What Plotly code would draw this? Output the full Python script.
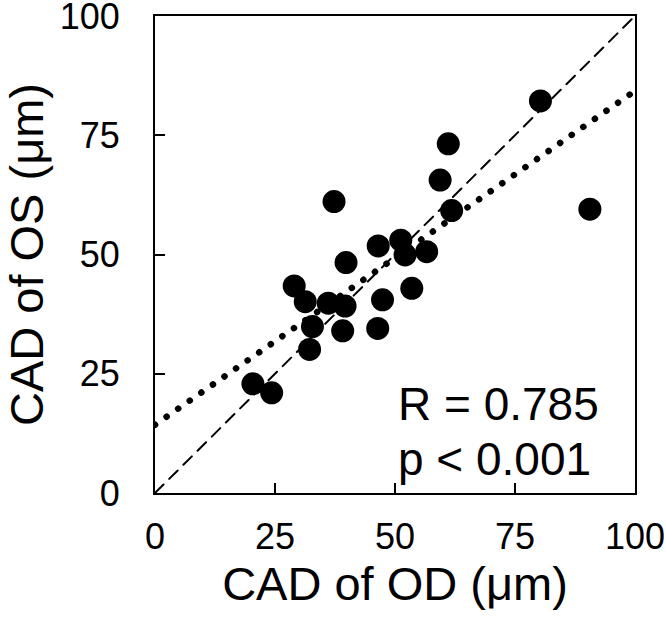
import plotly.graph_objects as go

# CAD of OD (x) and CAD of OS (y), in µm
cad_od = [20.4, 24.3, 29.0, 31.3, 32.8, 32.2, 36.1, 37.3, 39.8, 39.6, 39.1,
          46.5, 47.4, 46.4, 51.2, 52.1, 53.5, 56.6, 59.4, 61.1, 61.8, 80.3, 90.6]
cad_os = [22.9, 21.0, 43.4, 40.1, 34.9, 30.1, 39.8, 61.1, 48.3, 39.2, 34.0,
          51.8, 40.5, 34.5, 53.0, 49.9, 42.9, 50.6, 65.6, 73.2, 59.2, 82.2, 59.5]

# regression line
reg_intercept = 14.3
reg_slope = 0.70
line_x = [0, 100]
identity_y = [0, 100]
reg_y = [reg_intercept + reg_slope * v for v in line_x]

tick_vals = [0, 25, 50, 75, 100]
tick_text = ["0", "25", "50", "75", "100"]

stats_r = "R = 0.785"
stats_p = "p < 0.001"

FONT = "Arial, 'Liberation Sans', sans-serif"

fig = go.Figure()
fig.add_trace(go.Scatter(x=line_x, y=identity_y, mode="lines",
                         line=dict(color="black", width=2, dash="12px,8px"),
                         hoverinfo="skip", showlegend=False))
fig.add_trace(go.Scatter(x=line_x, y=reg_y, mode="lines",
                         line=dict(color="black", width=6.5, dash="0.1px,14px"),
                         hoverinfo="skip", showlegend=False))
fig.add_trace(go.Scatter(x=cad_od, y=cad_os, mode="markers",
                         marker=dict(color="black", size=23, line=dict(width=0)),
                         showlegend=False))

axis_common = dict(range=[0, 100], tickvals=tick_vals, ticktext=tick_text,
                   ticks="inside", ticklen=10, tickwidth=2, tickcolor="black",
                   showline=True, linecolor="black", linewidth=2, mirror=True,
                   showgrid=False, zeroline=False, ticklabeloverflow="allow",
                   tickfont=dict(family=FONT, size=36, color="black"))

fig.update_xaxes(**axis_common,
                 title=dict(text="CAD of OD (μm)", standoff=4,
                            font=dict(family=FONT, size=47, color="black")),
                 ticklabelstandoff=11)
fig.update_yaxes(**axis_common,
                 title=dict(text="CAD of OS (μm)", standoff=26,
                            font=dict(family=FONT, size=47, color="black")),
                 ticklabelstandoff=26)

fig.add_annotation(x=50.2, y=18.7, xref="x", yref="y", text=stats_r,
                   showarrow=False, xanchor="left", yanchor="middle",
                   font=dict(family=FONT, size=46, color="black"))
fig.add_annotation(x=50.2, y=7.2, xref="x", yref="y", text=stats_p,
                   showarrow=False, xanchor="left", yanchor="middle",
                   font=dict(family=FONT, size=46, color="black"))

fig.update_layout(width=666, height=621,
                  margin=dict(l=155, r=31, t=16, b=128, autoexpand=False),
                  plot_bgcolor="white", paper_bgcolor="white")

post = """
document.body.style.margin='0';
document.body.style.overflow='hidden';
document.querySelectorAll('.scatterlayer .js-line').forEach(function(e){
  e.style.strokeLinecap='round';
});
"""
fig.write_html("out.html", post_script=post, config={"displayModeBar": False})
